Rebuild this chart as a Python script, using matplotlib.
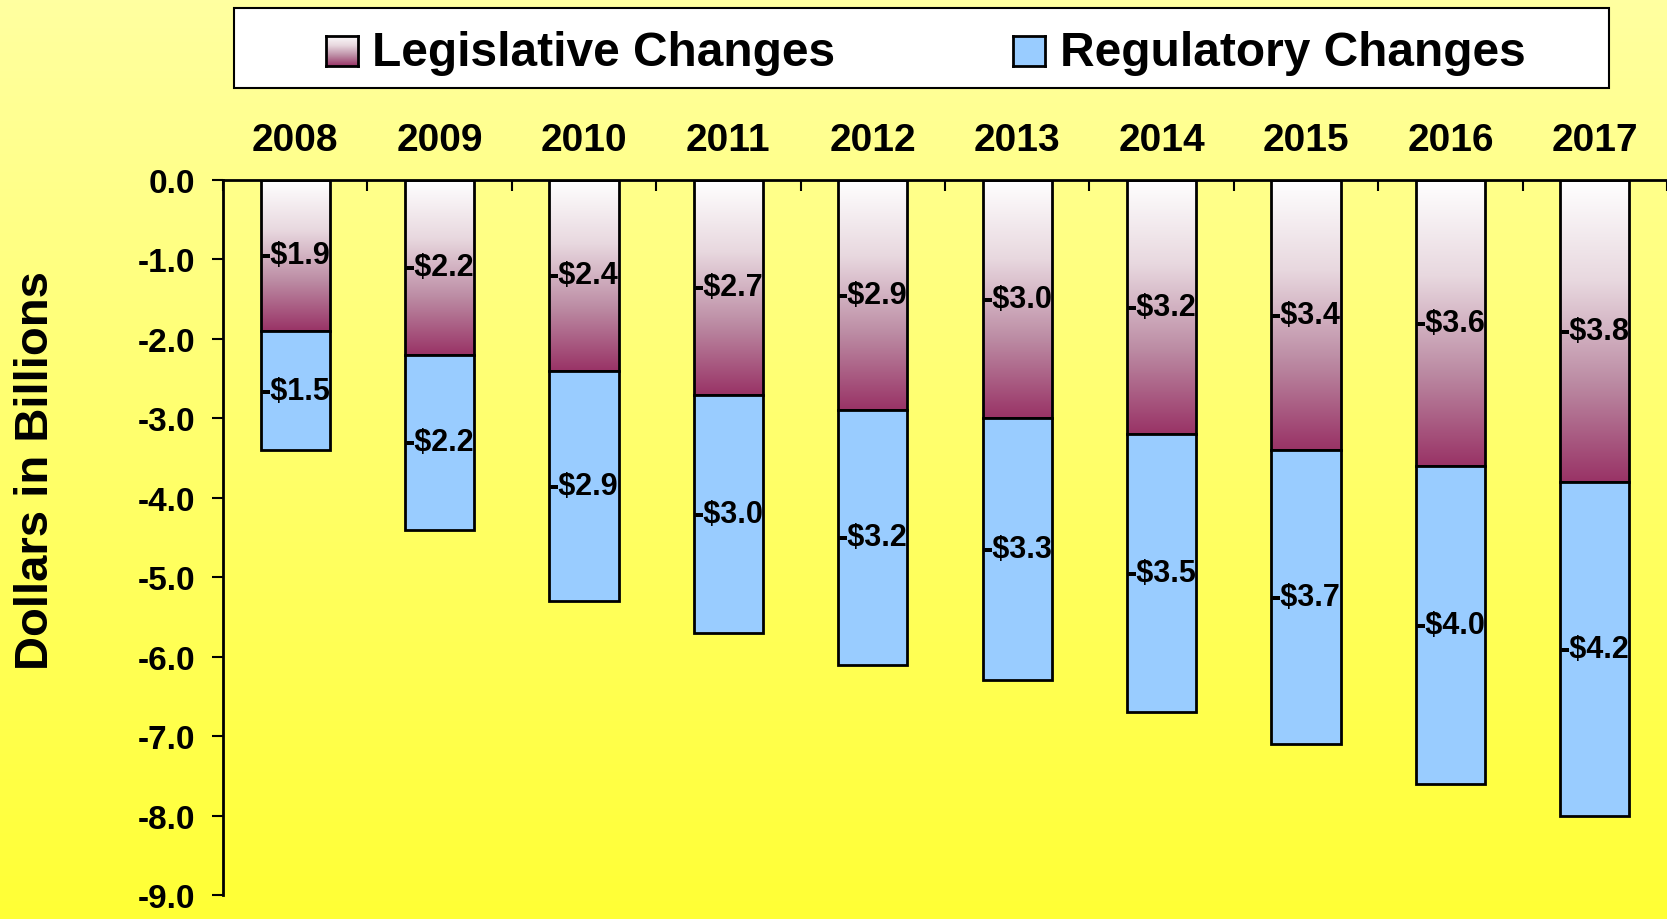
import numpy as np
import matplotlib
matplotlib.use("Agg")
import matplotlib.pyplot as plt
from matplotlib.colors import LinearSegmentedColormap
from matplotlib.patches import Rectangle

years = ["2008", "2009", "2010", "2011", "2012", "2013", "2014", "2015", "2016", "2017"]
legislative = [1.9, 2.2, 2.4, 2.7, 2.9, 3.0, 3.2, 3.4, 3.6, 3.8]
regulatory = [1.5, 2.2, 2.9, 3.0, 3.2, 3.3, 3.5, 3.7, 4.0, 4.2]
yticks = [0.0, -1.0, -2.0, -3.0, -4.0, -5.0, -6.0, -7.0, -8.0, -9.0]

plt.rcParams['font.family'] = ['Liberation Sans', 'DejaVu Sans']
plt.rcParams['font.weight'] = 'bold'

W, H = 1667, 920
fig = plt.figure(figsize=(W / 100, H / 100), dpi=100)

# background gradient
bg = fig.add_axes([0, 0, 1, 1], zorder=-10)
bg_cmap = LinearSegmentedColormap.from_list("bg", ["#FFFF35", "#FFFFA0"])
bg.imshow(np.linspace(0, 1, 256).reshape(-1, 1), cmap=bg_cmap, aspect='auto',
          extent=[0, 1, 0, 1], origin='lower')
bg.axis('off')

leg_cmap = LinearSegmentedColormap.from_list("leg", ["#FFFFFF", "#E8D8DF", "#BC8CA4", "#993366"])
blue = "#99CCFF"

ax = fig.add_axes([223 / W, 1 - 896 / H, 1 - 223 / W, (896 - 181) / H])
ax.set_facecolor('none')
x = np.arange(len(years))
width = 0.48

neg_leg = [-v for v in legislative]
neg_reg = [-v for v in regulatory]

bars_leg = ax.bar(x, neg_leg, width, color='none', edgecolor='black', linewidth=2, zorder=3)
bars_reg = ax.bar(x, neg_reg, width, bottom=neg_leg, color=blue, edgecolor='black',
                  linewidth=2, zorder=3)

grad = np.linspace(0, 1, 256).reshape(-1, 1)
for b in bars_leg:
    x0, y0 = b.get_x(), b.get_y()
    w, h = b.get_width(), b.get_height()
    im = ax.imshow(grad, cmap=leg_cmap, aspect='auto', origin='upper',
                   extent=[x0, x0 + w, y0 + h, y0], zorder=2)
    im.set_clip_path(b)

ax.bar_label(bars_leg, labels=[f"-${v:.1f}" for v in legislative], label_type='center',
             fontsize=22, fontweight='bold', zorder=5)
ax.bar_label(bars_reg, labels=[f"-${v:.1f}" for v in regulatory], label_type='center',
             fontsize=22, fontweight='bold', zorder=5)

ax.set_xlim(-0.5, len(years) - 0.5)
ax.set_ylim(-9, 0)
ax.set_yticks(yticks)
ax.set_yticklabels([f"{v:.1f}" for v in yticks], fontsize=24, fontweight='bold')
ax.tick_params(axis='y', length=8, width=1.5, pad=12, direction='out')

ax.xaxis.tick_top()
ax.set_xticks(x)
ax.set_xticklabels(years, fontsize=28, fontweight='bold')
ax.tick_params(axis='x', which='major', length=0, pad=15.5)
ax.set_xticks(np.arange(len(years) + 1) - 0.5, minor=True)
ax.tick_params(axis='x', which='minor', top=True, bottom=False, length=8, width=1.5,
               direction='in')

for s in ['right', 'bottom']:
    ax.spines[s].set_visible(False)
for s in ['left', 'top']:
    ax.spines[s].set_linewidth(2)
    ax.spines[s].set_zorder(4)

fig.text(36 / W, 1 - 471 / H, "Dollars in Billions", fontsize=34, fontweight='bold',
         rotation=90, ha='center', va='center')

# legend box
fig.patches.append(Rectangle((234 / W, 1 - 89 / H), (1609 - 234) / W, (89 - 8.5) / H,
                             transform=fig.transFigure, facecolor='white',
                             edgecolor='black', linewidth=1.5, zorder=5))
m1 = fig.add_axes([326 / W, 1 - 67 / H, 32 / W, 30 / H], zorder=6)
m1.imshow(grad, cmap=leg_cmap, aspect='auto', origin='upper', extent=[0, 1, 0, 1])
m1.set_xticks([]); m1.set_yticks([])
for s in m1.spines.values():
    s.set_linewidth(2)
m2 = fig.add_axes([1013 / W, 1 - 67 / H, 32 / W, 30 / H], zorder=6)
m2.set_facecolor(blue)
m2.set_xticks([]); m2.set_yticks([])
for s in m2.spines.values():
    s.set_linewidth(2)
fig.text(372 / W, 1 - 54 / H, "Legislative Changes", fontsize=34.5, fontweight='bold',
         va='center', ha='left', zorder=7)
fig.text(1060 / W, 1 - 54 / H, "Regulatory Changes", fontsize=34.5, fontweight='bold',
         va='center', ha='left', zorder=7)

fig.savefig("out.png", dpi=100)
